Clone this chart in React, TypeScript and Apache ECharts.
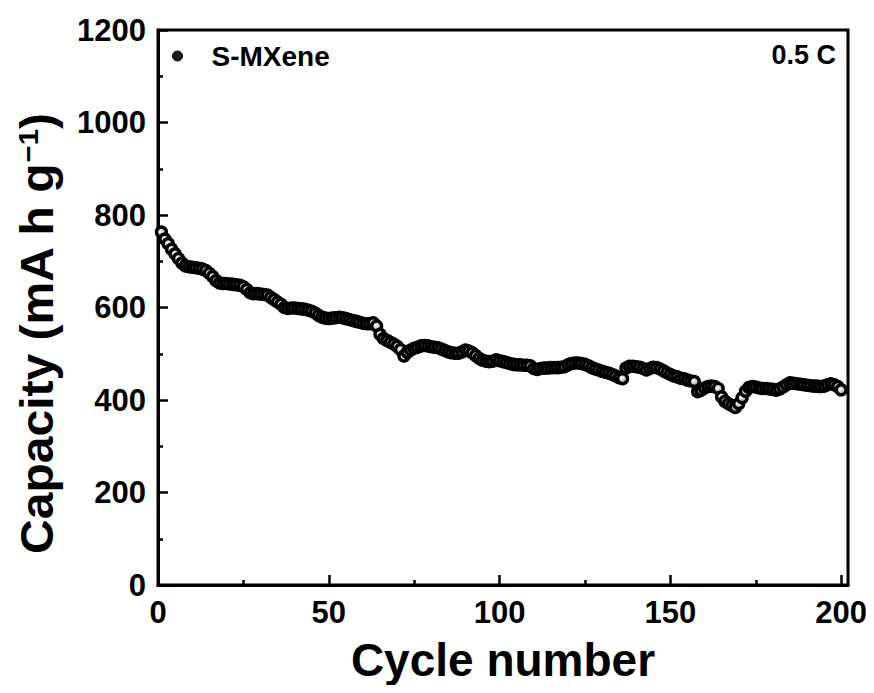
import React, { useEffect, useRef } from "react";
import * as echarts from "echarts";

const CYCLES_START = 1;
const CAPACITY: number[] = [
  763, 748, 738, 726, 716, 706, 696, 690, 688, 687,
  686, 685, 683, 680, 674, 667, 658, 653, 652, 652,
  651, 650, 649, 648, 645, 639, 632, 630, 630, 629,
  628, 627, 622, 617, 612, 607, 600, 598, 599, 599,
  598, 597, 596, 594, 592, 588, 583, 579, 577, 576,
  577, 578, 579, 578, 576, 574, 572, 570, 568, 566,
  565, 565, 567, 560, 542, 533, 529, 525, 521, 516,
  509, 495, 503, 508, 512, 514, 517, 518, 517, 515,
  514, 513, 510, 507, 504, 502, 501, 501, 504, 508,
  506, 502, 496, 490, 486, 484, 483, 484, 487, 485,
  483, 481, 479, 477, 476, 476, 475, 475, 474, 468,
  466, 468, 469, 469, 470, 470, 470, 471, 472, 476,
  479, 480, 480, 479, 477, 474, 470, 467, 465, 462,
  460, 458, 455, 452, 448, 446, 469, 473, 473, 472,
  471, 468, 465, 468, 471, 470, 467, 463, 459, 455,
  452, 450, 447, 446, 443, 441, 440, 418, 421, 426,
  429, 430, 429, 425, 407, 397, 392, 388, 384, 392,
  405, 419, 427, 429, 428, 426, 425, 425, 424, 423,
  421, 424, 428, 433, 437, 436, 435, 434, 433, 432,
  431, 430, 430, 429, 430, 433, 435, 433, 429, 422,
];
const X_MAJOR_TICKS = [0, 50, 100, 150, 200];
const X_MINOR_TICKS = [25, 75, 125, 175];
const SERIES_NAME = "S-MXene";
const RATE_LABEL = "0.5 C";
const X_TITLE = "Cycle number";

const FONT = '"Liberation Sans", Arial, Helvetica, sans-serif';

export default function App() {
  const ref = useRef<HTMLDivElement>(null);
  useEffect(() => {
    if (!ref.current) return;
    const chart = echarts.init(ref.current, undefined, { renderer: "svg" });
    const data = CAPACITY.map((v, i) => [CYCLES_START + i, v]);
    chart.setOption({
      animation: false,
      backgroundColor: "#fff",
      grid: {
        left: 158,
        right: 26,
        top: 30,
        bottom: 108,
        show: true,
        borderColor: "#000",
        borderWidth: 3,
        backgroundColor: "transparent",
      },
      legend: {
        show: true,
        left: 167,
        top: 37,
        icon: "circle",
        itemWidth: 58,
        itemHeight: 10,
        data: [SERIES_NAME],
        itemStyle: { color: "#1a1a1a", borderColor: "#000", borderWidth: 1 },
        textStyle: { fontFamily: FONT, fontWeight: "bold", fontSize: 28, color: "#000" },
      },
      xAxis: [
        {
          type: "value",
          min: 0,
          max: 202,
          position: "bottom",
          name: X_TITLE,
          nameLocation: "middle",
          nameGap: 52,
          nameTextStyle: { fontFamily: FONT, fontWeight: "bold", fontSize: 46, color: "#000" },
          axisLine: { show: true, lineStyle: { color: "#000", width: 3 } },
          axisTick: { show: true, inside: true, length: 10, customValues: X_MAJOR_TICKS, lineStyle: { color: "#000", width: 2.5 } },
          axisLabel: {
            show: true,
            customValues: X_MAJOR_TICKS,
            margin: 12,
            fontFamily: FONT,
            fontWeight: "bold",
            fontSize: 31,
            color: "#000",
          },
          splitLine: { show: false },
        },
        {
          type: "value",
          min: 0,
          max: 202,
          position: "bottom",
          axisLine: { show: false },
          axisTick: { show: true, inside: true, length: 5, customValues: X_MINOR_TICKS, lineStyle: { color: "#000", width: 2.5 } },
          axisLabel: { show: false },
          splitLine: { show: false },
        },
      ],
      yAxis: {
        type: "value",
        min: 0,
        max: 1200,
        interval: 200,
        axisLine: { show: true, lineStyle: { color: "#000", width: 3 } },
        axisTick: { show: true, inside: true, length: 10, lineStyle: { color: "#000", width: 2.5 } },
        minorTick: { show: true, splitNumber: 2, length: 5, lineStyle: { color: "#000", width: 2.5 } },
        axisLabel: {
          margin: 12,
          fontFamily: FONT,
          fontWeight: "bold",
          fontSize: 31,
          color: "#000",
          formatter: (v: number) => String(v),
        },
        splitLine: { show: false },
      },
      graphic: [
        {
          type: "text",
          x: 37,
          y: 334,
          rotation: Math.PI / 2,
          scaleX: 1.045,
          style: {
            text: "{a|Capacity (mA h g}{s|\u22121}{a|)}",
            align: "center",
            verticalAlign: "middle",
            textAlign: "center",
            textVerticalAlign: "middle",
            fill: "#000",
            rich: {
              a: { fontFamily: FONT, fontWeight: "bold", fontSize: 46, fill: "#000", color: "#000" },
              s: { fontFamily: FONT, fontWeight: "bold", fontSize: 28, fill: "#000", color: "#000", verticalAlign: "top" },
            },
          },
        },
        {
          type: "text",
          x: 836,
          y: 55,
          style: {
            text: RATE_LABEL,
            align: "right",
            verticalAlign: "middle",
            textAlign: "right",
            textVerticalAlign: "middle",
            font: `bold 27px ${FONT}`,
            fill: "#000",
          },
        },
      ],
      series: [
        {
          name: SERIES_NAME,
          type: "scatter",
          xAxisIndex: 0,
          yAxisIndex: 0,
          data,
          symbol: "circle",
          symbolSize: 10,
          itemStyle: {
            color: {
              type: "radial",
              x: 0.4,
              y: 0.4,
              r: 0.6,
              colorStops: [
                { offset: 0, color: "#ffffff" },
                { offset: 1, color: "#9a9a9a" },
              ],
            },
            borderColor: "#000",
            borderWidth: 3.4,
            opacity: 1,
          },
        },
      ],
    });
    return () => chart.dispose();
  }, []);
  return <div ref={ref} style={{ width: 874, height: 693, margin: -8 }} />;
}
